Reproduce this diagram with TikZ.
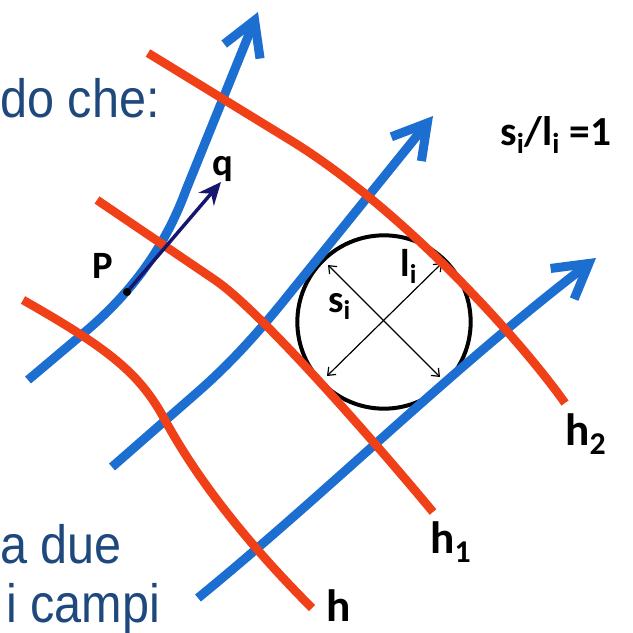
\documentclass[tikz,border=0pt]{standalone}
\usepackage{fontspec}
\setmainfont{Liberation Sans}
\newfontfamily\labfont{Carlito}
\newfontfamily\slidefont[FakeStretch=0.9]{Liberation Sans}
\usepackage{tikz}
\usetikzlibrary{arrows.meta}
\definecolor{fieldblue}{RGB}{28,110,208}
\definecolor{levelred}{RGB}{240,64,24}
\definecolor{qnavy}{RGB}{22,22,110}
\definecolor{slideblue}{RGB}{31,73,125}

\begin{document}
\begin{tikzpicture}[
  x=0.75pt, y=-0.75pt,
  fline/.style={draw=fieldblue, line width=6.8pt, -{Straight Barb[length=25pt,width=29pt]}},
  hline/.style={draw=levelred, line width=6.5pt},
  dim/.style={line width=0.9pt, {Straight Barb[length=5pt,width=8pt]}-{Straight Barb[length=5pt,width=8pt]}},
  lab/.style={font=\labfont\bfseries\fontsize{29}{29}\selectfont, inner sep=0pt, anchor=base west},
  hlab/.style={lab, font=\labfont\bfseries\fontsize{34}{34}\selectfont},
  txt/.style={font=\slidefont\fontsize{40.5}{40.5}\selectfont, text=slideblue, inner sep=0pt}]
\useasboundingbox (0,0) rectangle (633,633);
% slide text behind the figure
\node[txt, anchor=base west] (txtA) at (0,117) {do che:};
\node[txt, anchor=base west] (txtB) at (0,563) {a due};
\node[txt, anchor=base west] (txtC) at (6,622) {i campi};
% cell between two flow lines
\node[draw, circle, line width=3pt, minimum size=130pt, inner sep=0pt] (cell) at (384,322) {};
\coordinate (sA) at (328,265); \coordinate (sB) at (440,377);
\coordinate (lA) at (327,376); \coordinate (lB) at (442,263);
\draw[dim] (sA) -- (sB);
\draw[dim] (lA) -- (lB);
% flow lines
\draw[fline] (28,380) -- (85,332) .. controls (125,298) and (162,255) .. (186,190) -- (258,12);
\draw[fline] (112,467) -- (200,390) .. controls (234,360) and (262,328) .. (290,293) -- (433,116);
\draw[fline] (198,598) .. controls (330,490) and (450,370) .. (596,258);
% equipotential lines
\draw[hline] (23,300) .. controls (111,350) and (140,374) .. (165,420)
  .. controls (197,479) and (247,543) .. (312,608);
\draw[hline] (97,200) -- (215,280) .. controls (265,314) and (395,466) .. (433,512);
\draw[hline] (148,53) -- (290,140) .. controls (401,208) and (519,338) .. (565,403);
% flux vector at P
\coordinate (P) at (127,292);
\coordinate (qtip) at (221,182);
\draw[qnavy, line width=2.6pt, -{Stealth[length=17pt,width=15pt]}] (P) -- (qtip);
\fill (P) circle (3pt);
% labels
\node[lab] (Plab) at (92,278) {P};
\node[lab] (qlab) at (212,175) {q};
\node[lab] (slab) at (328,312) {s\textsubscript{i}};
\node[lab] (llab) at (400,276) {l\textsubscript{i}};
\node[lab, font=\labfont\bfseries\fontsize{31}{31}\selectfont] (ratio) at (500,145) {s\textsubscript{i}/l\textsubscript{i} =1};
\node[hlab] (hlab0) at (326,621) {h};
\node[hlab] (hlab1) at (430,553) {h\textsubscript{1}};
\node[hlab] (hlab2) at (565,445) {h\textsubscript{2}};
\end{tikzpicture}
\end{document}
